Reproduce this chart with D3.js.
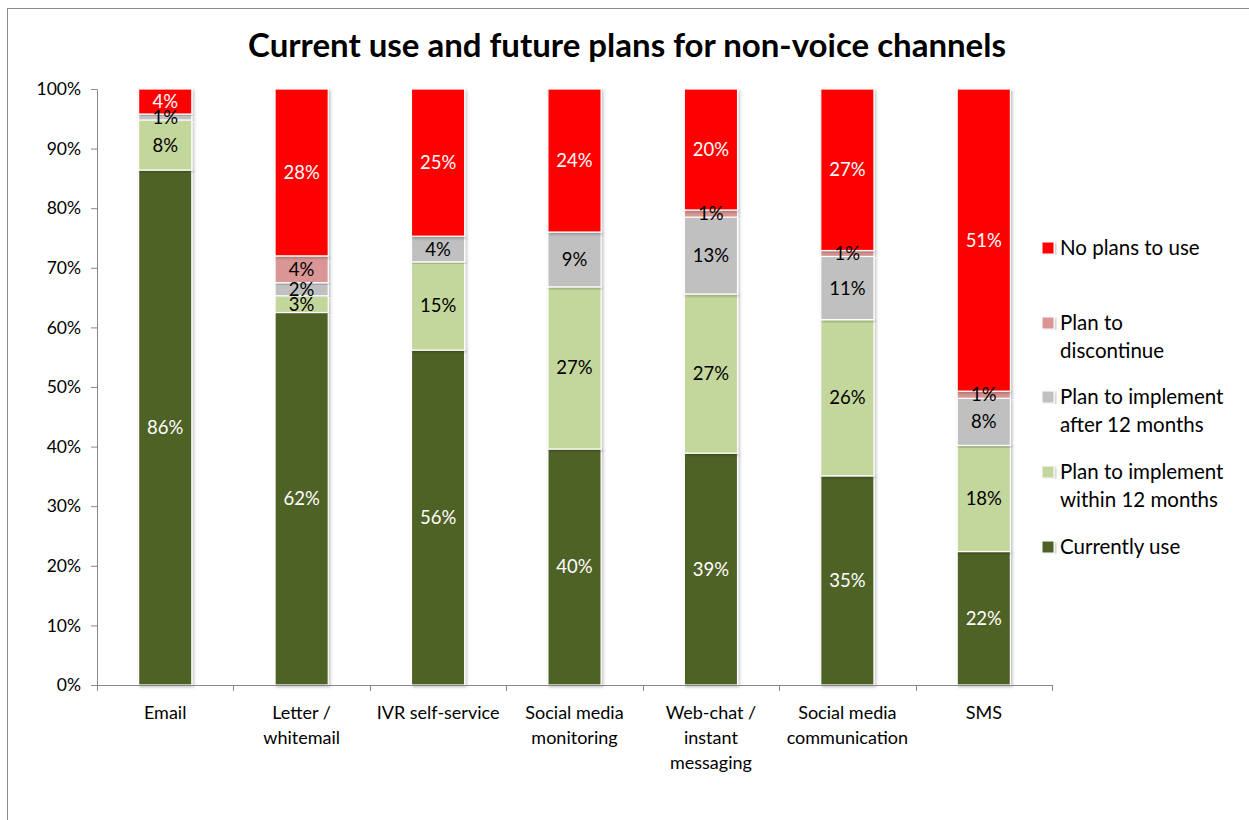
<!DOCTYPE html>
<html><head><meta charset="utf-8">
<script src="https://cdn.jsdelivr.net/npm/d3@7"></script>
<style>body{margin:0;background:#fff;font-family:Lato,"Open Sans",sans-serif;}</style>
</head><body><svg id="c" width="1249" height="820"></svg>
<script>
const categories = [["Email"],["Letter /","whitemail"],["IVR self-service"],["Social media","monitoring"],["Web-chat /","instant","messaging"],["Social media","communication"],["SMS"]];
const seriesNames = ["Currently use","Plan to implement within 12 months","Plan to implement after 12 months","Plan to discontinue","No plans to use"];
const legendLabels = [["No plans to  use"],["Plan to","discontinue"],["Plan to implement","after 12 months"],["Plan to implement","within 12 months"],["Currently use"]];
const currentlyUse   = [86.4, 62.5, 56.2, 39.6, 38.9, 35.1, 22.4];
const within12       = [8.4, 2.8, 14.8, 27.2, 26.7, 26.2, 17.8];
const after12        = [1.0, 2.2, 4.3, 9.2, 12.9, 10.6, 7.9];
const discontinue    = [0, 4.5, 0, 0, 1.2, 1.0, 1.2];
const noPlans        = [4.2, 28.0, 24.7, 24.0, 20.3, 27.1, 50.7];
const labelsCurrent  = ["86%","62%","56%","40%","39%","35%","22%"];
const labelsWithin   = ["8%","3%","15%","27%","27%","26%","18%"];
const labelsAfter    = ["1%","2%","4%","9%","13%","11%","8%"];
const labelsDiscont  = ["","4%","","","1%","1%","1%"];
const labelsNoPlans  = ["4%","28%","25%","24%","20%","27%","51%"];
const yTicks = [0,10,20,30,40,50,60,70,80,90,100];
const colors = ["#4F6228","#C3D69B","#C0C0C0","#D99694","#FF0000"];
const labelColors = ["#fff","#000","#000","#000","#fff"];

const svg = d3.select("#c");
const font = "Lato, 'Open Sans', sans-serif";
// frame
svg.append("line").attr("x1",7.5).attr("x2",7.5).attr("y1",8).attr("y2",820).attr("stroke","#8a8a8a");
svg.append("line").attr("x1",7).attr("x2",1249).attr("y1",8.5).attr("y2",8.5).attr("stroke","#8a8a8a");

svg.append("text").attr("x",627).attr("y",57).attr("text-anchor","middle")
  .attr("font-family",font).attr("font-weight","bold").attr("font-size",33).attr("fill","#000")
  .text("Current use and future plans for non-voice channels");

const x = d3.scaleBand().domain(d3.range(categories.length)).range([97,1052]).paddingInner(0.61).paddingOuter(0.305);
const y = d3.scaleLinear().domain([0,100]).range([685,89]);

const table = categories.map((c,i)=>({i, v:[currentlyUse[i],within12[i],after12[i],discontinue[i],noPlans[i]],
  l:[labelsCurrent[i],labelsWithin[i],labelsAfter[i],labelsDiscont[i],labelsNoPlans[i]]}));
const stack = d3.stack().keys([0,1,2,3,4]).value((d,k)=>d.v[k]);
const layers = stack(table);

const defs = svg.append("defs");
const f = defs.append("filter").attr("id","sh").attr("x","-20%").attr("y","-5%").attr("width","140%").attr("height","110%");
f.append("feDropShadow").attr("dx",1.5).attr("dy",1.5).attr("stdDeviation",1.5).attr("flood-color","#000").attr("flood-opacity",0.25);

const g = svg.append("g");
layers.forEach((layer,k)=>{
  g.selectAll(null).data(layer).enter().filter(d=>d[1]-d[0]>0).append("rect")
    .attr("x",d=>x(d.data.i)).attr("width",x.bandwidth())
    .attr("y",d=>y(d[1])).attr("height",d=>y(d[0])-y(d[1]))
    .attr("fill",colors[k]).attr("stroke","#fff").attr("stroke-width",1.2)
    .attr("filter","url(#sh)");
});
layers.forEach((layer,k)=>{
  g.selectAll(null).data(layer).enter().filter(d=>d.data.l[k]!=="").append("text")
    .attr("x",d=>x(d.data.i)+x.bandwidth()/2).attr("y",d=>(y(d[0])+y(d[1]))/2+6.5)
    .attr("text-anchor","middle").attr("font-family",font).attr("font-size",18.5)
    .attr("fill",labelColors[k]).text(d=>d.data.l[k]);
});

// axes
const yAxis = d3.axisLeft(y).tickValues(yTicks).tickFormat(d=>d+"%").tickSize(6).tickSizeOuter(0);
const ya = svg.append("g").attr("transform","translate(97,0)").call(yAxis);
ya.select(".domain").attr("stroke","#888");
ya.selectAll(".tick line").attr("stroke","#888");
ya.selectAll(".tick text").attr("font-family",font).attr("font-size",17.5).attr("fill","#000").attr("x",-16);

svg.append("line").attr("x1",97).attr("x2",1052).attr("y1",685.5).attr("y2",685.5).attr("stroke","#888");
const bounds = d3.range(categories.length+1).map(i=>97+(1052-97)*i/categories.length);
svg.selectAll(null).data(bounds).enter().append("line")
  .attr("x1",d=>Math.round(d)+0.5).attr("x2",d=>Math.round(d)+0.5).attr("y1",685).attr("y2",691).attr("stroke","#888");

categories.forEach((c,i)=>{
  const t = svg.append("text").attr("text-anchor","middle").attr("font-family",font).attr("font-size",18).attr("fill","#000");
  c.forEach((line,j)=>t.append("tspan").attr("x",x(i)+x.bandwidth()/2).attr("y",719+j*25).text(line));
});

// legend
const legY = [248, 323, 397, 472, 547];
legendLabels.forEach((lab,idx)=>{
  const k = 4-idx;
  svg.append("rect").attr("x",1042).attr("y",legY[idx]-6).attr("width",12).attr("height",12)
    .attr("fill",colors[k]).attr("stroke","#fff").attr("filter","url(#sh)");
  const t = svg.append("text").attr("font-family",font).attr("font-size",20.5).attr("fill","#000");
  lab.forEach((line,j)=>t.append("tspan").attr("x",1060).attr("y",legY[idx]+7+j*28).text(line));
});
</script></body></html>
